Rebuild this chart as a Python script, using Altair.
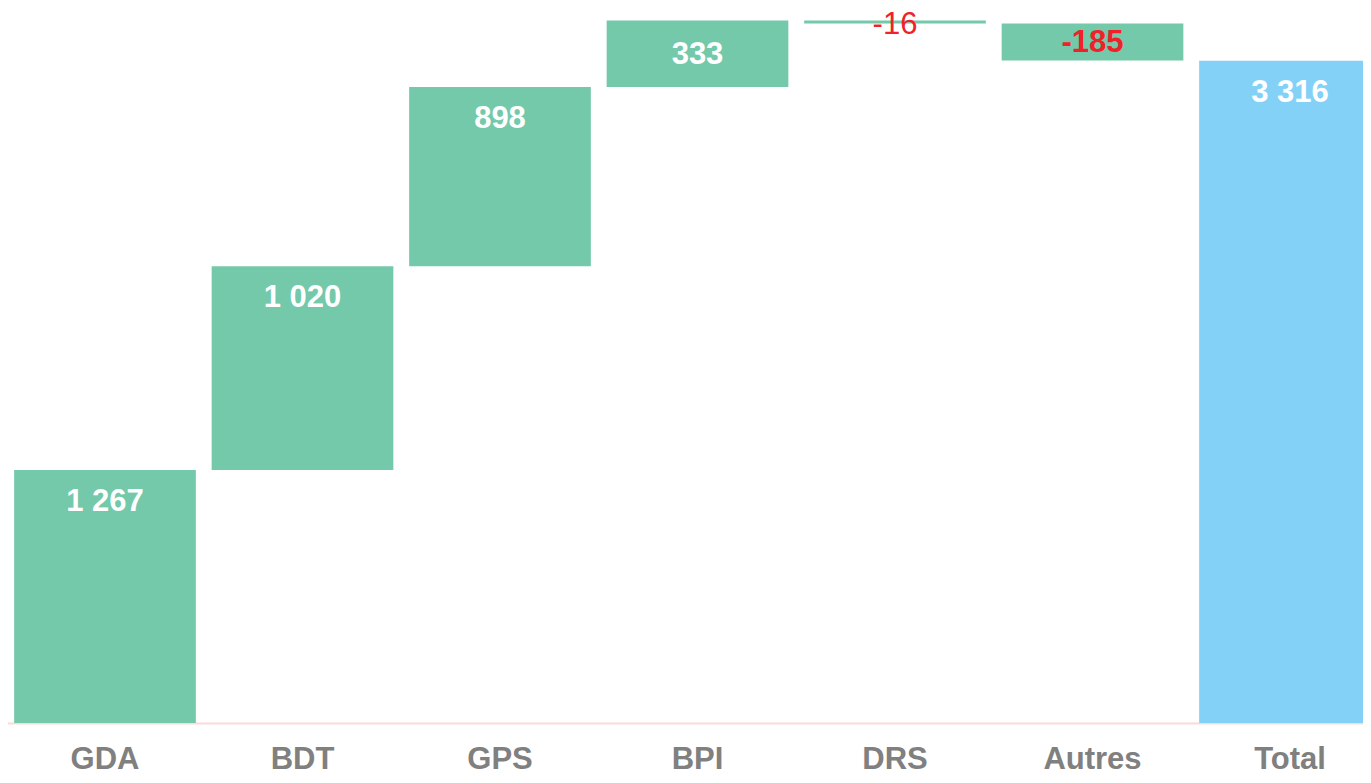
import altair as alt
import pandas as pd

categories = ["GDA", "BDT", "GPS", "BPI", "DRS", "Autres", "Total"]
values = [1267, 1020, 898, 333, -16, -185, 3316]
is_total = [False, False, False, False, False, False, True]

rows = []
cum = 0
for cat, v, tot in zip(categories, values, is_total):
    if tot:
        start, end = 0, v
    else:
        start, end = cum, cum + v
        cum = end
    rows.append({
        "cat": cat,
        "value": v,
        "start": start,
        "end": end,
        "top": max(start, end),
        "mid": (start + end) / 2,
        "label": f"{v:,}".replace(",", " "),
        "kind": "total" if tot else "step",
        "neg": bool(v < 0),
        "small": bool(abs(v) < 400),
        "thin": bool(abs(v) < 50),
    })
df = pd.DataFrame(rows)

Y_MAX = 3580
x_scale = alt.Scale(range=[-1.75, 1380.75], paddingInner=0.08, paddingOuter=0.04)
x_enc = alt.X(
    "cat:N",
    sort=categories,
    title=None,
    scale=x_scale,
    axis=alt.Axis(
        labelAngle=0,
        labelFont="Liberation Sans",
        labelFontSize=31,
        labelFontWeight="bold",
        labelColor="#808080",
        labelBaseline="alphabetic",
        labelPadding=45,
        ticks=False,
        tickSize=0,
        domainColor="#FCDADA",
        domainWidth=2,
        grid=False,
    ),
)
x_plain = alt.X("cat:N", sort=categories, scale=x_scale)
y_scale = alt.Scale(domain=[0, Y_MAX], nice=False, zero=True)

base = alt.Chart(df)

bars = base.mark_bar(size=181.7).encode(
    x=x_enc,
    y=alt.Y("start:Q", scale=y_scale, axis=None, title=None),
    y2="end:Q",
    color=alt.Color(
        "kind:N",
        scale=alt.Scale(domain=["step", "total"], range=["#74C9AA", "#84D1F7"]),
        legend=None,
    ),
)

def txt(filt, field, dy, weight, color):
    return base.transform_filter(filt).mark_text(
        font="Liberation Sans", fontSize=31, fontWeight=weight,
        baseline="middle", dy=dy, color=color,
    ).encode(
        x=x_plain,
        y=alt.Y(f"{field}:Q", scale=y_scale),
        text="label:N",
    )

big_pos = txt("!datum.small && !datum.neg", "top", 32, "bold", "#FFFFFF")
small_pos = txt("datum.small && !datum.neg", "mid", 1, "bold", "#FFFFFF")
small_neg = txt("datum.small && datum.neg && !datum.thin", "mid", 1, "bold", "#EE2228")
thin_neg = txt("datum.thin && datum.neg", "mid", 3, "normal", "#EE2228")

chart = (
    alt.layer(bars, big_pos, small_pos, small_neg, thin_neg)
    .properties(
        width=1355,
        height=715,
        autosize=alt.AutoSizeParams(type="none"),
        padding={"left": 0, "top": 0, "right": 0, "bottom": 52},
    )
    .configure_view(stroke=None)
)

chart.save("out.html", embed_options={"renderer": "svg", "actions": False})
